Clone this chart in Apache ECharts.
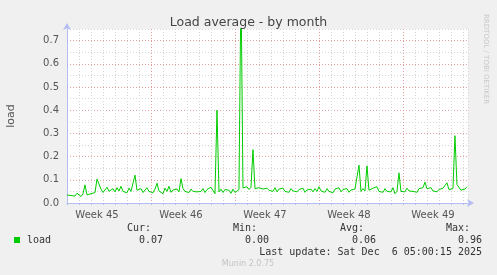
<!DOCTYPE html>
<html><head><meta charset="utf-8">
<script src="https://cdn.jsdelivr.net/npm/echarts@6/dist/echarts.min.js"></script>
<style>html,body{margin:0;padding:0;background:#f0f0f0;}#c{width:497px;height:275px;}</style>
</head><body><div id="c"></div>
<script>
// Sample spacing: one value every 4 hours (1/6 day), starting at the left edge of the plot
const stepDays = 1 / 6;
const loadValues = [
0.035,0.040,0.032,0.038,0.030,0.042,0.036,0.028,0.040,0.078,
0.035,0.030,0.040,0.034,0.045,0.103,0.098,0.060,0.045,0.052,
0.068,0.050,0.055,0.062,0.048,0.066,0.052,0.072,0.050,0.058,
0.044,0.064,0.050,0.058,0.120,0.055,0.050,0.062,0.045,0.056,
0.066,0.050,0.058,0.044,0.060,0.085,0.052,0.060,0.040,0.064,
0.050,0.072,0.046,0.056,0.050,0.060,0.048,0.105,0.062,0.050,
0.056,0.045,0.060,0.050,0.058,0.048,0.055,0.050,0.062,0.045,
0.058,0.050,0.068,0.062,0.040,0.400,0.048,0.060,0.045,0.058,
0.050,0.055,0.042,0.060,0.045,0.052,0.058,0.960,0.065,0.060,
0.070,0.058,0.068,0.230,0.062,0.070,0.066,0.072,0.060,0.068,
0.064,0.055,0.062,0.050,0.066,0.048,0.060,0.052,0.064,0.050,
0.058,0.046,0.062,0.052,0.060,0.048,0.058,0.050,0.064,0.046,
0.056,0.052,0.060,0.048,0.062,0.050,0.070,0.052,0.058,0.046,
0.062,0.050,0.056,0.044,0.060,0.052,0.066,0.048,0.058,0.050,
0.062,0.046,0.056,0.050,0.060,0.052,0.163,0.050,0.062,0.052,
0.160,0.055,0.048,0.064,0.056,0.070,0.050,0.058,0.046,0.062,
0.050,0.056,0.048,0.066,0.040,0.050,0.130,0.050,0.058,0.048,
0.064,0.052,0.060,0.050,0.058,0.046,0.062,0.054,0.066,0.090,
0.062,0.058,0.066,0.052,0.060,0.048,0.058,0.052,0.064,0.056,
0.087,0.058,0.050,0.062,0.290,0.080,0.072,0.055,0.050,0.060,
0.070
];
const weekLabels = ['Week 45','Week 46','Week 47','Week 48','Week 49'];
const weekBoundaryDays = [6, 13, 20, 27];
const firstWeekLabelDay = 2.5;
const spanDays = 33.42;
const yTickLabels = ['0.0','0.1','0.2','0.3','0.4','0.5','0.6','0.7'];
const legendName = 'load';
const statHeaders = ['Cur:','Min:','Avg:','Max:'];
const statValues = ['0.07','0.00','0.06','0.96'];
const lastUpdate = 'Last update: Sat Dec  6 05:00:15 2025';

const seriesData = loadValues.map((v, i) => [i * stepDays, v]);

const RED = '#e6a0a0', GRAY = '#d4d4d4', AXIS = '#b4bcf4';
const nDayTicks = Math.floor(spanDays) + 2;
const xColors = [];
for (let d = 0; d < nDayTicks; d++) xColors.push(weekBoundaryDays.indexOf(d) >= 0 ? RED : GRAY);
const yColors = [];
for (let k = 0; k <= 15; k++) yColors.push(k % 2 === 0 ? RED : GRAY);

const chart = echarts.init(document.getElementById('c'), null, {renderer: 'canvas'});
const mono = 'DejaVu Sans Mono';
const statX = [151, 257, 364, 470];
const valX = [163, 269, 376, 482];
const graphics = [
  {type:'rect', left:14, top:237, shape:{width:6,height:6}, style:{fill:'#00cc00'}},
  {type:'text', x:27, y:240, style:{text:legendName, font:'10px ' + mono, fill:'#333', verticalAlign:'middle'}},
  {type:'text', x:489, y:14, rotation:-Math.PI/2, style:{text:'RRDTOOL / TOBI OETIKER', font:'7px DejaVu Sans', fill:'#c8c8c8'}},
  {type:'text', x:248, y:264, style:{text:'Munin 2.0.75', font:'8px DejaVu Sans', fill:'#c4c4c4', align:'center', verticalAlign:'middle'}},
  {type:'text', x:482, y:252, style:{text:lastUpdate, font:'10px ' + mono, fill:'#333', align:'right', verticalAlign:'middle'}}
];
statHeaders.forEach((h, i) => graphics.push({type:'text', x:statX[i], y:228, style:{text:h, font:'10px ' + mono, fill:'#333', align:'right', verticalAlign:'middle'}}));
statValues.forEach((h, i) => graphics.push({type:'text', x:valX[i], y:240, style:{text:h, font:'10px ' + mono, fill:'#333', align:'right', verticalAlign:'middle'}}));

chart.setOption({
  backgroundColor: '#f0f0f0',
  animation: false,
  title: {text:'Load average - by month', left:'center', top:11, textStyle:{fontFamily:'DejaVu Sans', fontSize:12.5, fontWeight:'normal', color:'#444'}},
  grid: {left:67, right:29, top:29, bottom:72, show:true, backgroundColor:'#ffffff', borderWidth:0, containLabel:false, outerBoundsMode:'none'},
  xAxis: [{
    type:'value', min:0, max:spanDays, interval:1,
    axisLine:{show:true, lineStyle:{color:AXIS, width:1}, symbol:['none','arrow'], symbolSize:[6,7], symbolOffset:[0,6]},
    axisTick:{show:true, length:2, lineStyle:{color:xColors}},
    axisLabel:{show:false},
    splitLine:{show:true, showMinLine:false, lineStyle:{color:xColors, type:[1,2], width:1}}
  },{
    type:'value', position:'bottom', min:0, max:spanDays, interval:0.5,
    axisLine:{show:false}, axisTick:{show:false}, splitLine:{show:false},
    axisLabel:{show:true, interval:0, hideOverlap:false, showMinLabel:false, showMaxLabel:false, margin:7, fontFamily:'DejaVu Sans', fontSize:10, color:'#555',
      formatter: v => { const w = (v - firstWeekLabelDay) / 7; const k = Math.round(w); return (Math.abs(w - k) < 1e-6 && weekLabels[k]) ? weekLabels[k] : ''; }}
  }],
  yAxis: {
    type:'value', min:0, max:0.75, interval:0.05,
    name:'load', nameLocation:'middle', nameGap:50, nameRotate:90,
    nameTextStyle:{fontFamily:'DejaVu Sans', fontSize:11, color:'#555'},
    axisLine:{show:true, lineStyle:{color:AXIS, width:1}, symbol:['none','arrow'], symbolSize:[6,7], symbolOffset:[0,6]},
    axisTick:{show:false},
    axisLabel:{margin:8, fontFamily:'DejaVu Sans', fontSize:10, color:'#555', showMaxLabel:false,
      formatter: v => { const k = Math.round(v * 10); return Math.abs(v*10 - k) < 1e-6 && yTickLabels[k] ? yTickLabels[k] : ''; }},
    splitLine:{show:true, lineStyle:{color:yColors, type:[1,2], width:1}}
  },
  series: [{
    type:'line', name:legendName, data:seriesData, xAxisIndex:0, showSymbol:false, symbol:'none',
    lineStyle:{color:'#00cc00', width:1}, clip:true
  }],
  graphic: graphics
});
</script></body></html>
